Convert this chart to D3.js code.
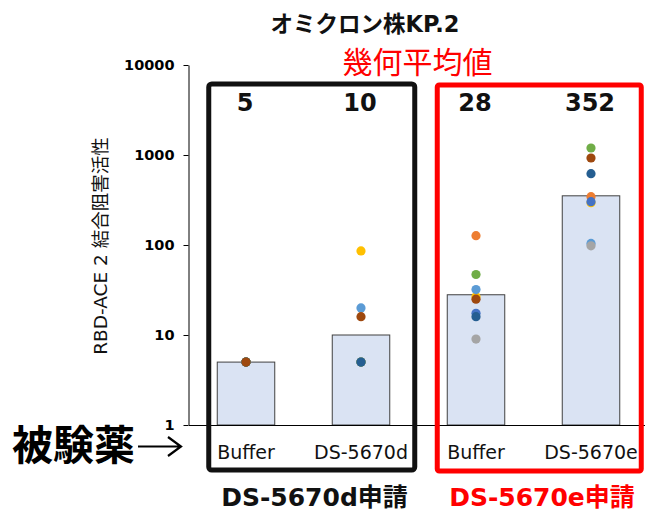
<!DOCTYPE html>
<html>
<head>
<meta charset="utf-8">
<script src="https://cdn.jsdelivr.net/npm/d3@7/dist/d3.min.js"></script>
<style>
  html, body { margin: 0; padding: 0; background: #fff; }
  svg { display: block; }
  text { font-family: "DejaVu Sans", "Noto Sans CJK JP", sans-serif; }
</style>
</head>
<body>
<svg id="chart" width="645" height="512"></svg>
<script>
// ---- data ----
const categories = ["Buffer", "DS-5670d", "Buffer", "DS-5670e"];
const geoMeans = [5, 10, 28, 352];
const geoMeanLabels = ["5", "10", "28", "352"];
const yTicks = [1, 10, 100, 1000, 10000];
const groupLabels = ["DS-5670d申請", "DS-5670e申請"];

// individual values per series (draw order), one value per category
const seriesNames = ["S1", "S2", "S3", "S4", "S5", "S6", "S7", "S8"];
const seriesColors = ["#FFC000", "#ED7D31", "#4472C4", "#5B9BD5", "#A5A5A5", "#70AD47", "#255E91", "#9E480E"];
const s1 = [5, 86, 26.6, 295];
const s2 = [5, 5, 127, 344];
const s3 = [5, 5, 17.4, 303];
const s4 = [5, 20, 32, 104];
const s5 = [5, 5, 9, 98];
const s6 = [5, 5, 47, 1196];
const s7 = [5, 5, 16, 620];
const s8 = [5, 16, 25, 926];
const seriesValues = [s1, s2, s3, s4, s5, s6, s7, s8];

// ---- layout ----
const svg = d3.select("#chart");
const plot = { left: 188.5, right: 648.5, top: 65, bottom: 425 };

const x = d3.scaleBand()
  .domain(d3.range(categories.length))
  .range([plot.left, plot.right])
  .paddingInner(0.5)
  .paddingOuter(0.25);

const y = d3.scaleLog()
  .domain([1, 10000])
  .range([plot.bottom, plot.top]);

// bars
svg.append("g").selectAll("rect")
  .data(geoMeans)
  .join("rect")
  .attr("x", (d, i) => x(i))
  .attr("y", d => y(d))
  .attr("width", x.bandwidth())
  .attr("height", d => y(1) - y(d))
  .attr("fill", "#DAE3F3")
  .attr("stroke", "#404040")
  .attr("stroke-width", 1);

// y axis
const yAxis = svg.append("g")
  .attr("transform", `translate(${plot.left},0)`)
  .call(d3.axisLeft(y).tickValues(yTicks).tickFormat(d3.format("d")).tickSize(5).tickSizeOuter(0).tickPadding(9));
yAxis.select(".domain").attr("stroke", "#000").attr("stroke-width", 1);
yAxis.selectAll(".tick line").attr("stroke", "#000");
yAxis.selectAll(".tick text")
  .attr("font-size", 14.5)
  .attr("font-weight", "bold")
  .attr("fill", "#000")
  .style("font-family", "'DejaVu Sans', sans-serif");

// x axis
const xAxis = svg.append("g")
  .attr("transform", `translate(0,${plot.bottom})`)
  .call(d3.axisBottom(x).tickFormat(i => categories[i]).tickSize(0).tickSizeOuter(0));
xAxis.select(".domain").attr("stroke", "#000").attr("stroke-width", 1);
xAxis.selectAll(".tick text")
  .attr("y", 34)
  .attr("dy", 0)
  .attr("font-size", 19)
  .attr("fill", "#111")
  .style("font-family", "'DejaVu Sans', sans-serif");

// dots
seriesValues.forEach((vals, si) => {
  svg.append("g").selectAll("circle")
    .data(vals)
    .join("circle")
    .attr("cx", (d, i) => x(i) + x.bandwidth() / 2)
    .attr("cy", d => y(d))
    .attr("r", 4.6)
    .attr("fill", seriesColors[si]);
});

// group boxes
const bw = x.bandwidth();
svg.append("rect")
  .attr("x", x(0) - 8.5).attr("y", 84)
  .attr("width", (x(1) + bw + 25) - (x(0) - 8.5)).attr("height", 386)
  .attr("rx", 3)
  .attr("fill", "none").attr("stroke", "#111").attr("stroke-width", 5);
svg.append("rect")
  .attr("x", x(2) - 10).attr("y", 85)
  .attr("width", (x(3) + bw + 21.5) - (x(2) - 10)).attr("height", 386)
  .attr("rx", 2)
  .attr("fill", "none").attr("stroke", "#FF0000").attr("stroke-width", 5);

// geometric mean labels
svg.append("g").selectAll("text")
  .data(geoMeanLabels)
  .join("text")
  .attr("x", (d, i) => x(i) + bw / 2 - 1)
  .attr("y", 111)
  .attr("text-anchor", "middle")
  .attr("font-size", 24)
  .attr("font-weight", "bold")
  .attr("fill", "#111")
  .text(d => d);

// title
svg.append("text")
  .attr("x", 365).attr("y", 31.5)
  .attr("text-anchor", "middle")
  .attr("font-size", 22.5).attr("font-weight", "bold").attr("fill", "#111")
  .text("オミクロン株KP.2");

svg.append("text")
  .attr("x", 417.5).attr("y", 72.5)
  .attr("text-anchor", "middle")
  .attr("font-size", 30).attr("fill", "#FF0000")
  .style("font-family", "'Noto Sans CJK JP', sans-serif")
  .text("幾何平均値");

// y axis title
svg.append("text")
  .attr("transform", `translate(107,246) rotate(-90)`)
  .attr("text-anchor", "middle")
  .attr("font-size", 18.5).attr("fill", "#111")
  .text("RBD-ACE 2 結合阻害活性");

// left label
svg.append("text")
  .attr("x", 12).attr("y", 460)
  .attr("font-size", 41).attr("font-weight", "bold").attr("fill", "#000")
  .style("font-family", "'Noto Sans CJK JP', sans-serif")
  .text("被験薬");
// arrow drawn as a path
svg.append("path")
  .attr("d", "M138,446.5 H180 M168,437 L181,446.5 L168,456")
  .attr("fill", "none")
  .attr("stroke", "#000")
  .attr("stroke-width", 2.2)
  .attr("stroke-linejoin", "miter");

// group labels
svg.append("text")
  .attr("x", 314.5).attr("y", 506)
  .attr("text-anchor", "middle")
  .attr("font-size", 25).attr("font-weight", "bold").attr("fill", "#111")
  .text(groupLabels[0]);
svg.append("text")
  .attr("x", 542).attr("y", 506)
  .attr("text-anchor", "middle")
  .attr("font-size", 25).attr("font-weight", "bold").attr("fill", "#FF0000")
  .text(groupLabels[1]);
</script>
</body>
</html>
